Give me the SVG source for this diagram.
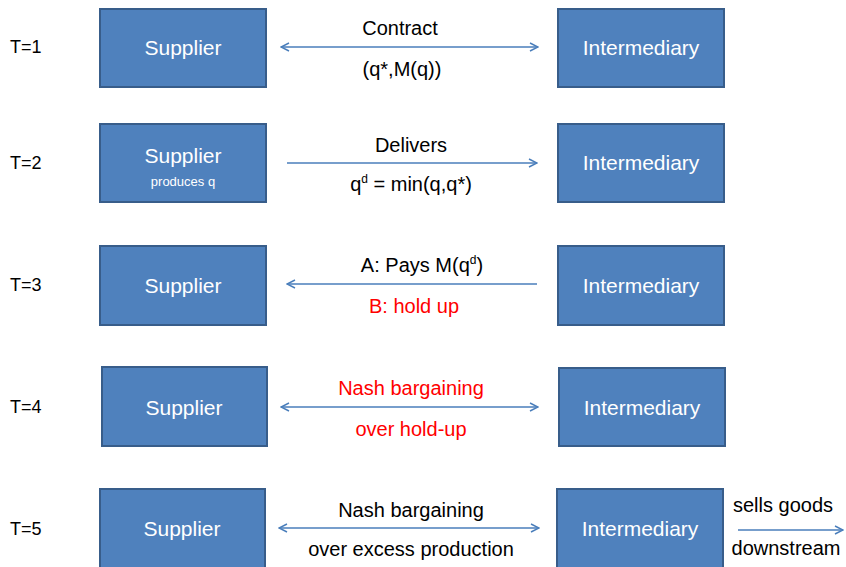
<svg xmlns="http://www.w3.org/2000/svg" width="846" height="567" viewBox="0 0 846 567">
<defs>
<marker id="ah" viewBox="0 0 10 10" refX="9" refY="5" markerWidth="10" markerHeight="10" markerUnits="userSpaceOnUse" orient="auto-start-reverse">
<path d="M1,1 L9,5 L1,9" fill="none" stroke="#4A7EBB" stroke-width="1.5"/>
</marker>
<style>
.box{fill:#4F81BD;stroke:#385D8A;stroke-width:2}
.bt{font-family:"Liberation Sans",Arial,sans-serif;font-size:21px;fill:#FFFFFF;text-anchor:middle}
.sm{font-family:"Liberation Sans",Arial,sans-serif;font-size:13px;fill:#FFFFFF;text-anchor:middle}
.lb{font-family:"Liberation Sans",Arial,sans-serif;font-size:20px;fill:#000000;text-anchor:middle}
.red{fill:#FF0000}
.tl{font-family:"Liberation Sans",Arial,sans-serif;font-size:18px;fill:#000000}
.ln{stroke:#4A7EBB;stroke-width:1.5;fill:none}
</style>
</defs>
<rect width="846" height="567" fill="#FFFFFF"/>
<g id="time-labels">
<text class="tl" x="10" y="53">T=1</text>
<text class="tl" x="10" y="169">T=2</text>
<text class="tl" x="10" y="291">T=3</text>
<text class="tl" x="10" y="413">T=4</text>
<text class="tl" x="10" y="535">T=5</text>
</g>
<g id="supplier1"><rect class="box" x="100" y="9" width="166" height="78"/><text class="bt" x="183" y="55">Supplier</text></g>
<g id="intermediary1"><rect class="box" x="558" y="9" width="166" height="78"/><text class="bt" x="641" y="55">Intermediary</text></g>
<g id="supplier2"><rect class="box" x="100" y="124" width="166" height="78"/><text class="bt" x="183" y="163">Supplier</text><text class="sm" x="183" y="186">produces q</text></g>
<g id="intermediary2"><rect class="box" x="558" y="124" width="166" height="78"/><text class="bt" x="641" y="170">Intermediary</text></g>
<g id="supplier3"><rect class="box" x="100" y="246" width="166" height="79"/><text class="bt" x="183" y="293">Supplier</text></g>
<g id="intermediary3"><rect class="box" x="558" y="246" width="166" height="79"/><text class="bt" x="641" y="293">Intermediary</text></g>
<g id="supplier4"><rect class="box" x="102" y="367" width="165" height="79"/><text class="bt" x="184" y="415">Supplier</text></g>
<g id="intermediary4"><rect class="box" x="559" y="368" width="166" height="78"/><text class="bt" x="642" y="415">Intermediary</text></g>
<g id="supplier5"><rect class="box" x="100" y="489" width="165" height="82"/><text class="bt" x="182" y="536">Supplier</text></g>
<g id="intermediary5"><rect class="box" x="557" y="489" width="166" height="82"/><text class="bt" x="640" y="536">Intermediary</text></g>
<g id="connectors">
<line class="ln" x1="281" y1="47" x2="538" y2="47" marker-start="url(#ah)" marker-end="url(#ah)"/>
<line class="ln" x1="287" y1="163" x2="537" y2="163" marker-end="url(#ah)"/>
<line class="ln" x1="537" y1="284" x2="287" y2="284" marker-end="url(#ah)"/>
<line class="ln" x1="281" y1="407" x2="538" y2="407" marker-start="url(#ah)" marker-end="url(#ah)"/>
<line class="ln" x1="279" y1="528" x2="539" y2="528" marker-start="url(#ah)" marker-end="url(#ah)"/>
<line class="ln" x1="738" y1="530" x2="843" y2="530" marker-end="url(#ah)"/>
</g>
<g id="labels">
<text class="lb" x="400" y="35">Contract</text>
<text class="lb" x="402" y="76">(q*,M(q))</text>
<text class="lb" x="411" y="152">Delivers</text>
<text class="lb" x="411" y="191">q<tspan font-size="12" dy="-8">d</tspan><tspan dy="8"> = min(q,q*)</tspan></text>
<text class="lb" x="422" y="272">A: Pays M(q<tspan font-size="12" dy="-8">d</tspan><tspan dy="8">)</tspan></text>
<text class="lb red" x="414" y="313">B: hold up</text>
<text class="lb red" x="411" y="395">Nash bargaining</text>
<text class="lb red" x="411" y="436">over hold-up</text>
<text class="lb" x="411" y="517">Nash bargaining</text>
<text class="lb" x="411" y="556">over excess production</text>
<text class="lb" x="783" y="512">sells goods</text>
<text class="lb" x="786" y="555">downstream</text>
</g>
</svg>
